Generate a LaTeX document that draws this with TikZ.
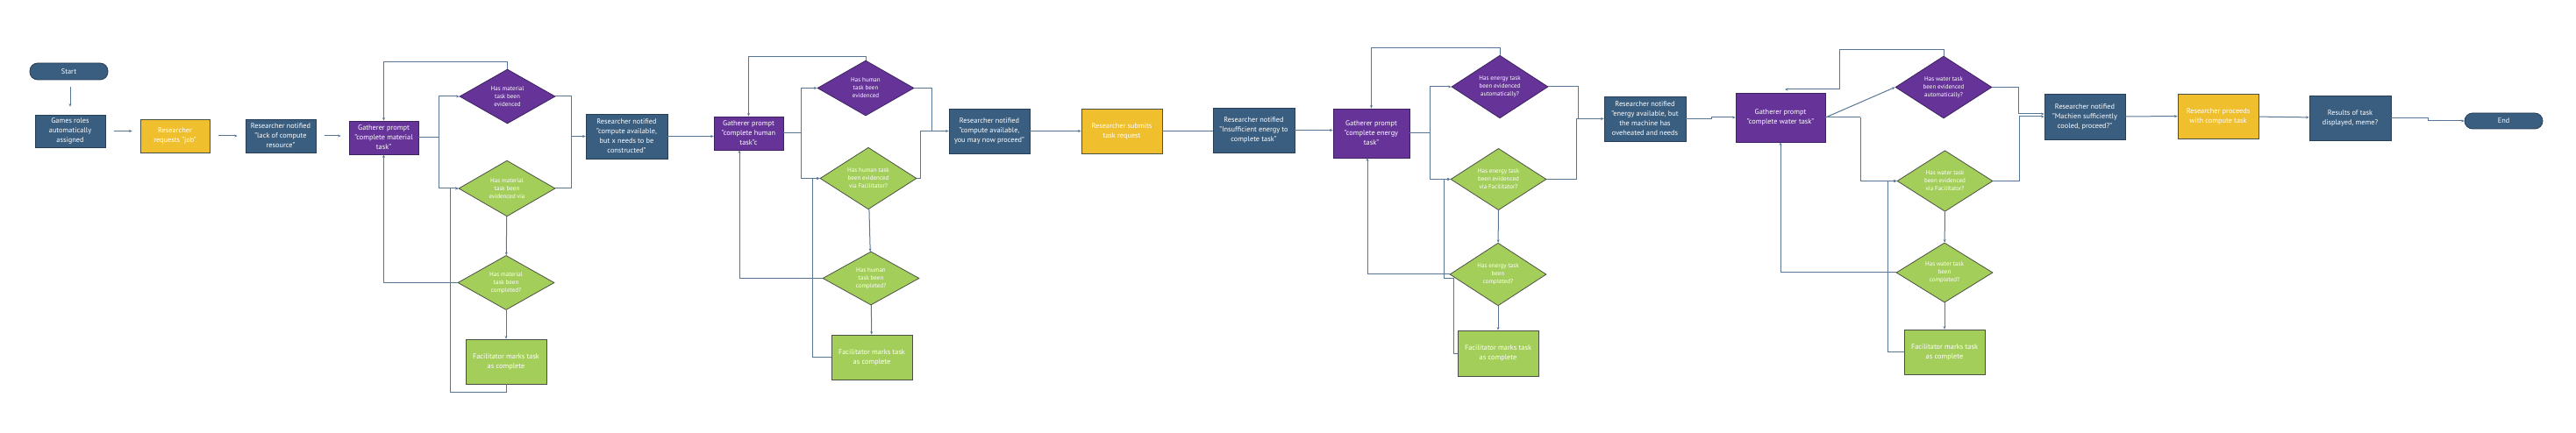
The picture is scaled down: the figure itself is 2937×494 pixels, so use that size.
\documentclass[tikz,border=0pt]{standalone}
\usepackage{fontspec}
\setmainfont{PT Sans}
\usetikzlibrary{shapes.geometric,arrows.meta}
\definecolor{cblue}{RGB}{58,94,128}
\definecolor{cblueD}{RGB}{40,62,86}
\definecolor{cpurple}{RGB}{102,51,153}
\definecolor{cpurpleD}{RGB}{62,34,96}
\definecolor{cyellow}{RGB}{240,191,46}
\definecolor{cgreen}{RGB}{164,206,90}
\definecolor{cdark}{RGB}{75,80,70}
\definecolor{cline}{RGB}{88,118,150}
\tikzset{
  base/.style={rectangle, font=\fontsize{8.3}{11}\selectfont, text=white, align=center, inner sep=1pt, line width=0.8pt},
  bbox/.style={base, fill=cblue, draw=cblueD},
  pbox/.style={base, fill=cpurple, draw=cpurpleD},
  ybox/.style={base, fill=cyellow, draw=cdark},
  gbox/.style={base, fill=cgreen, draw=cdark},
  term/.style={bbox, rounded corners=9pt},
  dia/.style={diamond, font=\fontsize{7}{9}\selectfont, text=white, align=center, inner sep=0pt, line width=0.8pt},
  pdia/.style={dia, fill=cpurple, draw=cpurpleD},
  gdia/.style={dia, fill=cgreen, draw=cdark},
  sz/.style 2 args={minimum width=#1pt, minimum height=#2pt},
  conn/.style={draw=cline, line width=1pt},
  arr/.style={conn, -{Stealth[length=3.5pt,width=3pt]}},
  gap/.style={shorten <=10pt, shorten >=9pt}
}
\begin{document}
\begin{tikzpicture}[x=1pt,y=-1pt]
\useasboundingbox (0,0) rectangle (2937,494);
% ---------- start / intro ----------
\node[term, sz={89}{19}] (startn) at (78.5,81.5) {Start};
\node[bbox, sz={80}{37}] (games) at (80,149.5) {Games roles\\automatically\\assigned};
\node[ybox, sz={79}{38}] (job) at (199.5,155) {Researcher\\requests "job"};
\node[bbox, sz={80}{38}] (lack) at (320,155) {Researcher notified\\"lack of compute\\resource"};
% ---------- material ----------
\node[pbox, sz={79}{38}] (gm) at (437.5,157) {Gatherer prompt\\"complete material\\task"};
\node[pdia, sz={109}{62}] (pm) at (578.5,110) {Has material\\task been\\evidenced};
\node[gdia, sz={110}{62}] (gm1) at (578,215) {Has material\\task been\\evidenced via};
\node[gdia, sz={110}{61}] (gm2) at (577,322.5) {Has material\\task been\\completed?};
\node[gbox, sz={92}{51}] (fm) at (577,412.5) {Facilitator marks task\\as complete};
\node[bbox, sz={93}{51}] (rn2) at (714.5,155.5) {Researcher notified\\"compute available,\\but x needs to be\\constructed"};
% ---------- human ----------
\node[pbox, sz={79}{38}] (gh) at (853.5,152) {Gatherer prompt\\"complete human\\task"c};
\node[pdia, sz={110}{63}] (ph) at (987,100.5) {Has human\\task been\\evidenced};
\node[gdia, sz={110}{61}] (gh1) at (990,203.5) {Has human task\\been evidenced\\via Facilitator?};
\node[gdia, sz={110}{61}] (gh2) at (993,317.5) {Has human\\task been\\completed?};
\node[gbox, sz={92}{51}] (fh) at (994,407.5) {Facilitator marks task\\as complete};
\node[bbox, sz={92}{51}] (rn3) at (1128,149.5) {Researcher notified\\"compute available,\\you may now proceed"};
\node[ybox, sz={92}{51}] (sub) at (1279,149.5) {Researcher submits\\task request};
\node[bbox, sz={93}{51}] (rn4) at (1429.5,148.5) {Researcher notified\\"Insufficient energy to\\complete task"};
% ---------- energy ----------
\node[pbox, sz={87}{56}] (ge) at (1563.5,152) {Gatherer prompt\\"complete energy\\task"};
\node[pdia, sz={110}{62}] (pe) at (1710,99) {Has energy task\\been evidenced\\automatically?};
\node[gdia, sz={109}{63}] (ge1) at (1708.5,204.5) {Has energy task\\been evidenced\\via Facilitator?};
\node[gdia, sz={110}{62}] (ge2) at (1708,313) {Has energy task\\been\\completed?};
\node[gbox, sz={92}{52}] (fe) at (1708,403) {Facilitator marks task\\as complete};
\node[bbox, sz={93}{51}] (rn5) at (1875.5,135.5) {Researcher notified\\"energy available, but\\the machine has\\oveheated and needs};
% ---------- water ----------
\node[pbox, sz={102}{56}] (gw) at (2030,134) {Gatherer prompt\\"complete water task"};
\node[pdia, sz={110}{63}] (pw) at (2216,99.5) {Has water task\\been evidenced\\automatically?};
\node[gdia, sz={109}{61}] (gw1) at (2217.5,206.5) {Has water task\\been evidenced\\via Facilitator?};
\node[gdia, sz={110}{62}] (gw2) at (2217,311) {Has water task\\been\\completed?};
\node[gbox, sz={92}{51}] (fw) at (2217,401.5) {Facilitator marks task\\as complete};
\node[bbox, sz={92}{52}] (rn6) at (2377,133) {Researcher notified\\"Machien sufficiently\\cooled, proceed?"};
\node[ybox, sz={92}{51}] (proc) at (2529,132.5) {Researcher proceeds\\with compute task};
\node[bbox, sz={93}{51}] (res) at (2679.5,134.5) {Results of task\\displayed, meme?};
\node[term, sz={89}{18}] (finish) at (2854.5,138) {End};

% ---------- connectors: intro ----------
\draw[arr, shorten <=8pt, shorten >=9pt] (startn.south -| games.north) -- (games.north);
\draw[arr, gap] (games.east) -- (games.east -| job.west);
\draw[arr, gap] (job.east) -- (job.east -| lack.west);
\draw[arr, gap] (lack.east) -- (lack.east -| gm.west);
% material
\coordinate (jm) at (500,157);
\draw[conn] (gm.east) -- (jm);
\draw[arr] (jm) |- (pm.west);
\draw[arr] (jm) |- (gm1.west);
\draw[arr] (pm.north) -- ++(0,-8) -| (gm.north);
\coordinate (km) at (651,155.5);
\draw[conn] (pm.east) -| (km);
\draw[conn] (gm1.east) -| (km);
\draw[arr] (km) -- (rn2.west);
\draw[arr] (gm1) -- (gm2);
\draw[arr] (gm2.west) -| (gm.south);
\draw[arr] (gm2) -- (fm);
\draw[arr] (fm.south) -- ++(0,9) -| ([xshift=-9pt]gm1.west) -- (gm1.west);
\draw[arr] (rn2.east) -- (rn2.east -| gh.west);
% human
\coordinate (jh) at (913,152);
\draw[conn] (gh.east) -- (jh);
\draw[arr] (jh) |- (ph.west);
\draw[arr] (jh) |- (gh1.west);
\draw[arr] (ph.north) -- ++(0,-4) -| (gh.north);
\coordinate (kh) at (1062,149.5);
\coordinate (kh2) at (1049,149.5);
\draw[conn] (ph.east) -| (kh);
\draw[conn] (gh1.east) -| (kh2);
\draw[arr] (kh2) -- (rn3.west);
\draw[arr] (gh1) -- (gh2);
\draw[arr] (gh2.west) -| ([xshift=-10.5pt]gh.south);
\draw[arr] (gh2) -- (fh);
\draw[arr] (fh.west) -| ([xshift=-8pt]gh1.west) -- (gh1.west);
\draw[arr] (rn3) -- (sub);
\draw[conn] (sub.east) -- (sub.east -| rn4.west);
\draw[arr] (rn4.east) -- (rn4.east -| ge.west);
% energy
\coordinate (je) at (1630,152);
\draw[conn] (ge.east) -- (je);
\draw[arr] (je) |- (pe.west);
\draw[arr] (je) |- (ge1.west);
\draw[arr] (pe.north) -- ++(0,-8) -| (ge.north);
\coordinate (ke) at (1799,135.5);
\coordinate (ke2) at (1797,135.5);
\draw[conn] (pe.east) -| (ke);
\draw[conn] (ge1.east) -| (ke2);
\draw[arr] (ke2) -- (rn5.west);
\draw[arr] (ge1) -- (ge2);
\draw[arr] (ge2.west) -| ([xshift=-4.5pt]ge.south);
\draw[arr] (ge2) -- (fe);
\coordinate (e1) at (1657,318);
\coordinate (e2) at (1646,204.5);
\draw[arr] (fe.west) -| (e1) -| (e2) -- (ge1.west);
% water
\draw[arr] (rn5.east) -- ++(29,0) |- (gw.west);
\draw[arr] (gw.east) -- (pw.west);
\coordinate (jw) at (2121,134);
\draw[conn] (gw.east) -- (jw);
\draw[arr] (jw) |- (gw1.west);
\coordinate (w2) at (2097,102);
\coordinate (wtop) at (2035,102);
\draw[arr] (pw.north) -- ++(0,-7) -| (w2) -- (wtop);
\coordinate (kw) at (2301,130);
\coordinate (kw2) at (2302,133);
\draw[conn] (pw.east) -| (kw);
\draw[arr] (kw) -- (kw -| rn6.west);
\draw[conn] (gw1.east) -| (kw2);
\draw[arr] (kw2) -- (rn6.west);
\draw[arr] (gw1) -- (gw2);
\draw[arr] (gw2.west) -| (gw.south);
\draw[arr] (gw2) -- (fw);
\draw[arr] (fw.west) -| ([xshift=-10pt]gw1.west) -- (gw1.west);
\draw[arr] (rn6) -- (proc);
\draw[arr] (proc) -- (res);
\draw[arr] (res.east) -- ++(42,0) |- (finish.west);
\end{tikzpicture}
\end{document}
